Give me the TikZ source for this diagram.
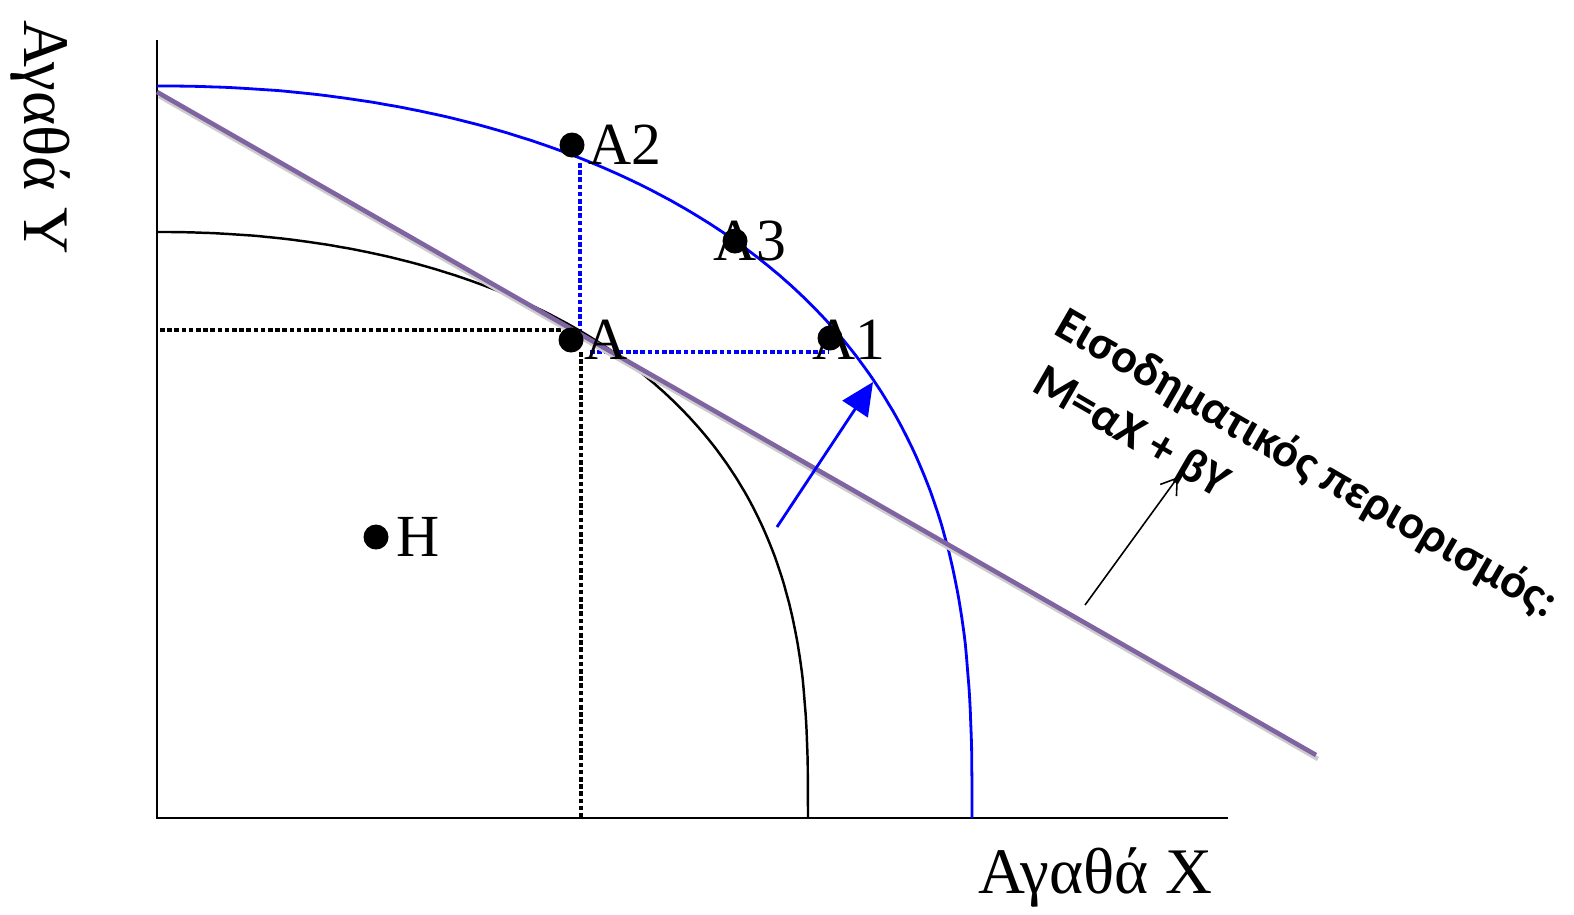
\documentclass[tikz,border=0pt]{standalone}
\usepackage{fontspec}
\setmainfont{Liberation Serif}
\newfontfamily\calibfont{Carlito}
\usetikzlibrary{arrows.meta,positioning}
\definecolor{ppfblue}{HTML}{0000FF}
\definecolor{budget}{HTML}{8064A2}

\begin{document}
\begin{tikzpicture}[x=0.02cm,y=-0.02cm,
  axis/.style={line width=1.6pt},
  oldppf/.style={line width=1.4pt},
  newppf/.style={ppfblue, line width=1.6pt},
  guide/.style={line width=1.9pt, dash pattern=on 2.6pt off 1.5pt},
  budgetline/.style={budget, line width=2.6pt},
  dot/.style={circle, fill=black, inner sep=0pt, minimum size=0.5cm},
  ptlabel/.style={inner sep=0pt, anchor=west, font=\fontsize{34}{40}\selectfont},
  axlabel/.style={inner sep=0pt, font=\fontsize{37}{44}\selectfont},
  note/.style={inner sep=0pt, anchor=base west, rotate=-30, font=\calibfont\bfseries\fontsize{27.3}{32}\selectfont}
]
\useasboundingbox (0,0) rectangle (1574,914);

% axes
\coordinate (O) at (157,818);
\draw[axis] (157,40) -- (O) -- (1228,818);

% guides
\draw[guide] (160,330) -- (575,330);
\draw[guide] (581,352) -- (581,818);
\draw[guide, ppfblue] (580,163) -- (580,334);
\draw[guide, ppfblue] (590,352) -- (828,352);

% production possibility frontiers
\draw[oldppf] (808,818) -- plot[domain=0.3:89.7, samples=150, variable=\t]
  ({157+651*cos(\t)^(2/2.1)}, {818-586*sin(\t)^(2/2.8)}) -- (157,232);
\draw[newppf] (972,818) -- plot[domain=0.3:89.7, samples=150, variable=\t]
  ({157+815*cos(\t)^(2/2.1)}, {818-732*sin(\t)^(2/2.8)}) -- (157,86);

% budget constraint
\draw[gray!40, line width=2.6pt] (159,96) -- (1318,759);
\draw[budgetline] (157,92) -- (1316,755);

% points
\node[dot] (A2) at (572,145) {};
\node[ptlabel] (A2l) at (588,145) {A2};
\node[ptlabel] (A3l) at (713,241) {A3};
\node[dot] (A3) at (735,241) {};
\node[dot] (A) at (571,340) {};
\node[ptlabel] (Al) at (584,340) {A};
\node[ptlabel] (A1l) at (812,340) {A1};
\node[dot] (A1) at (830,338) {};
\node[dot] (H) at (376,537) {};
\node[ptlabel] (Hl) at (396,537) {H};

% shift arrow
\coordinate (s0) at (777,527);
\coordinate (s1) at (873,382);
\draw[newppf, -{Triangle[length=0.65cm, width=0.6cm]}] (s0) -- (s1);

% axis labels
\node[axlabel, anchor=base west] (xl) at (978,893) {Αγαθά X};
\node[axlabel, anchor=base west, rotate=-90] (yl) at (24,20) {Αγαθά Y};

% budget note
\node[note] (n1) at (1052,333) {Εισοδηματικός περιορισμός:};
\node[note] (n2) at (1030,390) {M=αX + βY};
\coordinate (p0) at (1085,605);
\coordinate (p1) at (1178,477);
\draw[line width=0.9pt, -{Straight Barb[length=0.3cm, width=0.4cm]}] (p0) -- (p1);
\end{tikzpicture}
\end{document}
